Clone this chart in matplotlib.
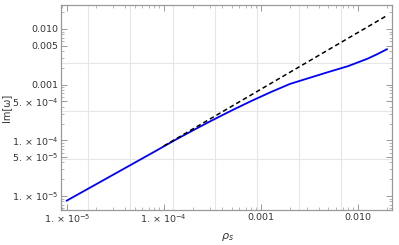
import numpy as np
from matplotlib import pyplot as plt
from matplotlib.ticker import FixedLocator, NullFormatter

# blue curve
rho = [1e-5, 2e-5, 4e-5, 8e-5, 1.26e-4, 2e-4, 3.16e-4, 5e-4, 7.94e-4,
       1.26e-3, 2e-3, 3.16e-3, 5e-3, 7.94e-3, 1.26e-2, 1.58e-2, 2e-2]
im_omega = [8.26e-6, 1.62e-5, 3.18e-5, 6.24e-5, 9.77e-5, 1.51e-4, 2.29e-4, 3.43e-4, 5.06e-4,
            7.31e-4, 1.03e-3, 1.32e-3, 1.69e-3, 2.15e-3, 2.92e-3, 3.51e-3, 4.33e-3]

# dashed asymptote
rho_fit = [1e-4, 2e-2]
im_fit = [7.9e-5, 1.74e-2]

xticks = [1e-5, 1e-4, 1e-3, 1e-2]
xlabels = ['1. × 10$^{-5}$', '1. × 10$^{-4}$', '0.001', '0.010']
yticks = [1e-5, 5e-5, 1e-4, 5e-4, 1e-3, 5e-3, 1e-2]
ylabels = ['1. × 10$^{-5}$', '5. × 10$^{-5}$', '1. × 10$^{-4}$', '5. × 10$^{-4}$',
           '0.001', '0.005', '0.010']

fig = plt.figure(figsize=(3.99, 2.45), dpi=100)
ax = fig.add_axes([0.1529, 0.1429, 0.8296, 0.8367])

ax.plot(rho, im_omega, color='#0000ff', lw=1.3, zorder=3)
ax.plot(rho_fit, im_fit, color='black', lw=1.1, ls=(0, (3, 2)), zorder=4)

ax.set_xscale('log')
ax.set_yscale('log')
ax.set_xlim(10**-5.059, 10**-1.646)
ax.set_ylim(10**-5.251, 10**-1.569)

# grid lines sit at powers of e
for k in range(-11, -4):
    ax.axvline(np.exp(k), color='#e6e6e6', lw=0.8, zorder=1)
for k in (-10, -8, -6):
    ax.axhline(np.exp(k), color='#e6e6e6', lw=0.8, zorder=1)

ax.xaxis.set_major_locator(FixedLocator(xticks))
ax.set_xticklabels(xlabels)
xminor = [m * 10.0**e for e in range(-6, -1) for m in range(2, 10)]
ax.xaxis.set_minor_locator(FixedLocator(xminor))
ax.xaxis.set_minor_formatter(NullFormatter())

ax.yaxis.set_major_locator(FixedLocator(yticks))
ax.set_yticklabels(ylabels)
yminor = [m * 10.0**e for e in range(-6, -1) for m in (2, 3, 4, 6, 7, 8, 9)]
ax.yaxis.set_minor_locator(FixedLocator(yminor))
ax.yaxis.set_minor_formatter(NullFormatter())

for s in ax.spines.values():
    s.set_color('#999999')
    s.set_linewidth(0.9)

ax.tick_params(which='both', direction='in', top=True, right=True,
               color='#999999', labelsize=6.8, labelcolor='#333333', pad=2)
ax.tick_params(which='major', length=4, width=0.7)
ax.tick_params(which='minor', length=2, width=0.5)

fig.text(227 / 399, 8 / 245, r'$\rho_s$', fontsize=8, color='#333333',
         ha='center', va='center')
fig.text(6 / 399, 0.559, 'Im[ω]', fontsize=7, color='#333333',
         rotation=90, ha='center', va='center')

fig.savefig('out.png', dpi=100)
